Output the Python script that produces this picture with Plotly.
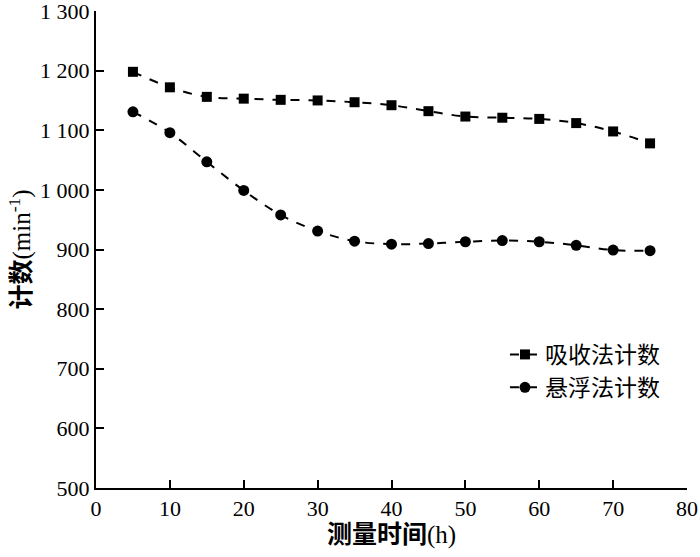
import plotly.graph_objects as go

# measurement time (h)
hours = [5, 10, 15, 20, 25, 30, 35, 40, 45, 50, 55, 60, 65, 70, 75]
# 吸收法计数 (min^-1)
absorb_counts = [1198, 1172, 1156, 1153, 1151, 1150, 1147, 1142, 1132, 1123, 1121, 1119, 1112, 1098, 1078]
# 悬浮法计数 (min^-1)
suspend_counts = [1131, 1096, 1047, 999, 958, 931, 914, 909, 910, 913, 915, 913, 907, 899, 898]

y_ticks = [500, 600, 700, 800, 900, 1000, 1100, 1200, 1300]
y_labels = ["500", "600", "700", "800", "900", "1 000", "1 100", "1 200", "1 300"]

fig = go.Figure()
fig.add_trace(go.Scatter(
    x=hours, y=absorb_counts, name="吸收法计数",
    mode="lines+markers",
    line=dict(color="black", width=2, dash="dash", shape="spline"),
    marker=dict(symbol="square", size=10, color="black"),
))
fig.add_trace(go.Scatter(
    x=hours, y=suspend_counts, name="悬浮法计数",
    mode="lines+markers",
    line=dict(color="black", width=2, dash="dash", shape="spline"),
    marker=dict(symbol="circle", size=11, color="black"),
))

fig.update_layout(
    width=700, height=557,
    margin=dict(l=96, r=13, t=11, b=69, autoexpand=False),
    paper_bgcolor="white", plot_bgcolor="white",
    font=dict(family="Liberation Serif, Noto Sans CJK SC", size=22, color="black"),
    showlegend=True,
    legend=dict(
        x=0.692, y=0.325, xanchor="left", yanchor="top",
        font=dict(family="Noto Sans CJK SC", size=23),
        bgcolor="rgba(0,0,0,0)", tracegroupgap=0,
    ),
    xaxis=dict(
        range=[0, 80], dtick=10, tick0=0, automargin=False,
        showline=True, linecolor="black", linewidth=2,
        ticks="inside", ticklen=8, tickwidth=2, tickcolor="black",
        showgrid=False, zeroline=False, ticklabeloverflow="allow",
        title=dict(text="<b>测量时间</b>(h)", font=dict(size=25), standoff=5),
    ),
    yaxis=dict(
        range=[500, 1300], tickvals=y_ticks, ticktext=y_labels, automargin=False,
        showline=True, linecolor="black", linewidth=2,
        ticks="inside", ticklen=8, tickwidth=2, tickcolor="black",
        showgrid=False, zeroline=False, ticklabeloverflow="allow",
        title=dict(text="<b>计数</b>(min<sup>-1</sup>)", font=dict(size=25), standoff=2),
    ),
)

# drop the page's default body margin so the figure sits at the window corner
fig.write_html("out.html", config={"displayModeBar": False},
               post_script="document.body.style.margin='0';")
